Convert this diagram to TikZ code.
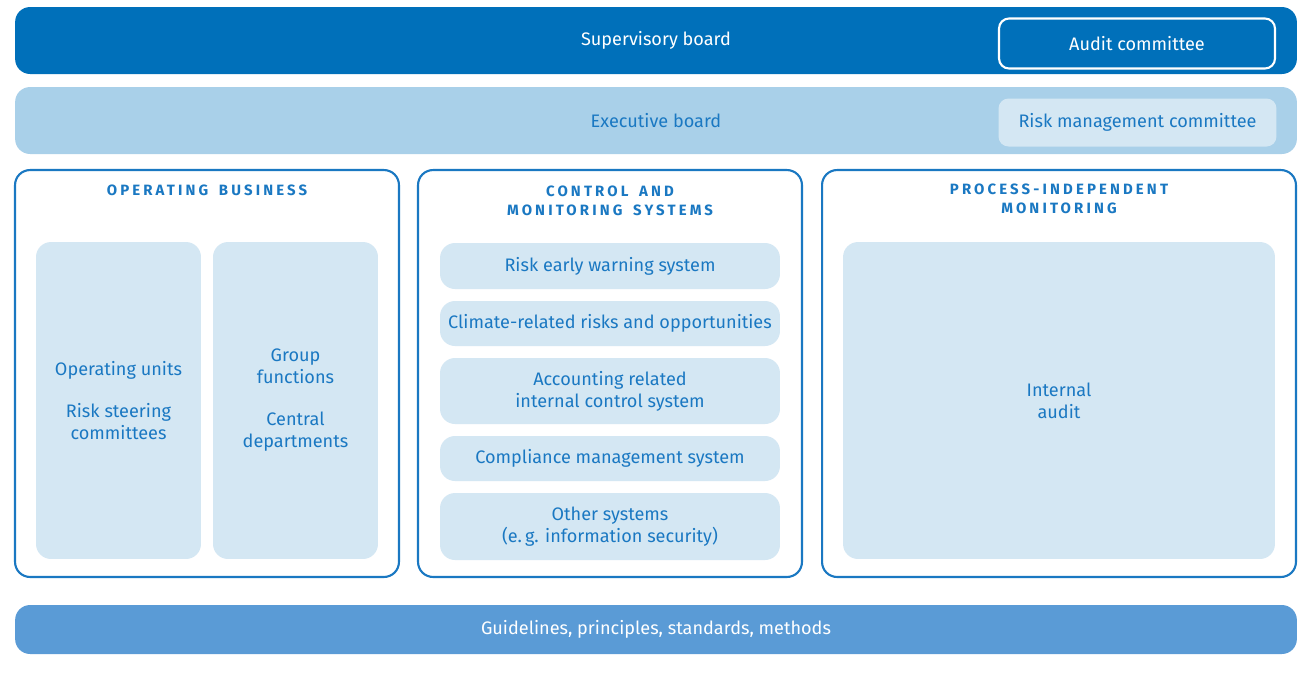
\documentclass[tikz,border=0pt]{standalone}
\usepackage{fontspec}
\setmainfont{Fira Sans}
\newfontfamily\headfam{Fira Sans}[LetterSpace=21,WordSpace=1.6]
\usepackage{xcolor}
\definecolor{boardDark}{HTML}{0070BA}
\definecolor{boardLight}{HTML}{A9D0E9}
\definecolor{itemBg}{HTML}{D4E7F3}
\definecolor{baseBar}{HTML}{5A9BD6}
\definecolor{textBlue}{HTML}{1A78C2}
\usepackage{tikz}
\usetikzlibrary{positioning,calc}
\newcommand{\headfont}{\fontsize{8.5}{10.8}\headfam\bfseries}
\newcommand{\bodyfont}{\fontsize{10.3}{12.5}\selectfont}
\tikzset{%
  boardBar/.style={%
    rectangle,
    rounded corners=0.3cm,
    minimum width=25.64cm,
    minimum height=1.34cm,
    font=\bodyfont,
    align=center
  },
  committeeBox/.style={%
    rectangle,
    rounded corners=0.2cm,
    minimum width=5.56cm,
    minimum height=1cm,
    font=\bodyfont,
    align=center
  },
  columnBox/.style={%
    rectangle,
    rounded corners=0.3cm,
    draw=textBlue,
    line width=1.2pt,
    fill=white,
    minimum height=8.14cm
  },
  headLabel/.style={%
    text=textBlue,
    font=\headfont,
    align=center
  },
  itemBox/.style={%
    rectangle,
    rounded corners=0.3cm,
    fill=itemBg,
    text=textBlue,
    font=\bodyfont,
    align=center
  }
}
\begin{document}
\begin{tikzpicture}[x=0.02cm,y=-0.02cm]
  \useasboundingbox (0,0) rectangle (1298,674);
  % boards
  \node[boardBar, fill=boardDark, text=white] (supervisory) at (656,40.5) {\raisebox{-2pt}{Supervisory board}};
  \node[committeeBox, draw=white, line width=1.2pt, text=white, minimum width=5.52cm] (audit) at (1137,43.5) {Audit committee};
  \node[boardBar, fill=boardLight, text=textBlue] (executive) at (656,120.5) {Executive board};
  \node[committeeBox, fill=itemBg, text=textBlue, minimum height=0.96cm] (riskmgmt) at (1137.5,122.5) {Risk management committee};

  % three columns
  \node[columnBox, minimum width=7.68cm] (opbusiness) at (207,373.5) {};
  \node[columnBox, minimum width=7.68cm] (control) at (610,373.5) {};
  \node[columnBox, minimum width=9.48cm] (independent) at (1059,373.5) {};

  \node[headLabel, below=0.2cm of opbusiness.north] (opHead) {OPERATING BUSINESS};
  \node[headLabel, below=0.22cm of control.north] (ctrlHead) {CONTROL AND\\MONITORING SYSTEMS};
  \node[headLabel, below=0.18cm of independent.north] (indHead) {PROCESS-INDEPENDENT\\MONITORING};

  % operating business
  \node[itemBox, minimum width=3.3cm, minimum height=6.34cm] (opunits) at (118.5,400.5)
    {Operating units\\[0.4cm]Risk steering\\committees};
  \node[itemBox, minimum width=3.3cm, minimum height=6.34cm] (groupfn) at (295.5,400.5)
    {Group\\functions\\[0.4cm]Central\\departments};

  % control and monitoring systems
  \node[itemBox, minimum width=6.8cm, minimum height=0.92cm] (earlywarn) at (610,266) {Risk early warning system};
  \node[itemBox, minimum width=6.8cm, minimum height=0.9cm] (climate) at (610,323.5) {Climate-related risks and opportunities};
  \node[itemBox, minimum width=6.8cm, minimum height=1.32cm] (accounting) at (610,391) {Accounting related\\internal control system};
  \node[itemBox, minimum width=6.8cm, minimum height=0.9cm] (compliance) at (610,458.5) {Compliance management system};
  \node[itemBox, minimum width=6.8cm, minimum height=1.34cm] (othersys) at (610,526.5) {Other systems\\(e.\,g. information security)};

  % process-independent monitoring
  \node[itemBox, minimum width=8.64cm, minimum height=6.34cm] (intaudit) at (1059,400.5) {Internal\\audit};

  % guidelines
  \node[boardBar, fill=baseBar, text=white, minimum height=0.98cm] (guidelines) at (656,629.5) {Guidelines, principles, standards, methods};
\end{tikzpicture}
\end{document}
